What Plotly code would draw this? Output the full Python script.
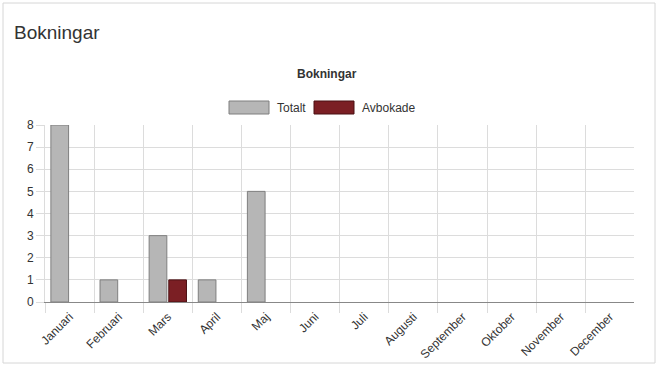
import plotly.graph_objects as go

months = ["Januari", "Februari", "Mars", "April", "Maj", "Juni", "Juli",
          "Augusti", "September", "Oktober", "November", "December"]
totalt = [8, 1, 3, 1, 5, 0, 0, 0, 0, 0, 0, 0]
avbokade = [0, 0, 1, 0, 0, 0, 0, 0, 0, 0, 0, 0]
series_names = ["Totalt", "Avbokade"]
fill_colors = ["#b6b6b6", "#7b1f24"]
line_colors = ["#7f7f7f", "#4a1013"]
y_ticks = [0, 1, 2, 3, 4, 5, 6, 7, 8]

W, H = 659, 368
L, R, T, B = 45, 25, 125, 66
pw, ph = W - L - R, H - T - B

def px(x):
    return (x - L) / pw

def py(y):
    return 1 - (y - T) / ph

FONT = "Liberation Sans, Arial, Helvetica, sans-serif"

fig = go.Figure()
for name, vals, fc, lc in zip(series_names, [totalt, avbokade], fill_colors, line_colors):
    fig.add_trace(go.Bar(x=months, y=vals, name=name,
                         marker=dict(color=fc, line=dict(color=lc, width=[1 if v else 0 for v in vals])),
                         showlegend=False))

shapes = []
annotations = []
# card border
shapes.append(dict(type="rect", xref="paper", yref="paper", x0=px(3), x1=px(655), y0=py(363), y1=py(3),
                   line=dict(color="#d6d6d6", width=1), fillcolor="rgba(0,0,0,0)", layer="below"))
annotations.append(dict(text="Bokningar", xref="paper", yref="paper", x=px(12), y=py(33), xanchor="left",
                        yanchor="middle", showarrow=False, font=dict(family=FONT, size=19, color="#333")))
annotations.append(dict(text="<b>Bokningar</b>", xref="paper", yref="paper", x=px(327), y=py(74), xanchor="center",
                        yanchor="middle", showarrow=False, font=dict(family=FONT, size=12, color="#333")))
# legend
legend_x = [229, 314]
for i, name in enumerate(series_names):
    x0 = legend_x[i]
    shapes.append(dict(type="rect", xref="paper", yref="paper", x0=px(x0), x1=px(x0 + 40), y0=py(114), y1=py(101),
                       line=dict(color=line_colors[i], width=1), fillcolor=fill_colors[i]))
    annotations.append(dict(text=name, xref="paper", yref="paper", x=px(x0 + 46), y=py(107.5), xanchor="left",
                            yanchor="middle", showarrow=False, font=dict(family=FONT, size=12, color="#333")))

fig.update_layout(
    width=W, height=H,
    margin=dict(l=L, r=R, t=T, b=B),
    paper_bgcolor="white", plot_bgcolor="white",
    barmode="group", bargap=0.2, bargroupgap=0.1,
    font=dict(family=FONT, size=12, color="#444"),
    shapes=shapes, annotations=annotations,
    xaxis=dict(type="category", tickson="boundaries", showgrid=True, gridcolor="#dcdcdc", gridwidth=1,
               tickangle=-45, ticks="outside", ticklen=10, tickcolor="#dcdcdc", ticklabelstandoff=2,
               showline=True, linecolor="#888", linewidth=1, range=[-0.5, 11.49], automargin=False,
               tickfont=dict(family=FONT, size=12, color="#333")),
    yaxis=dict(range=[0, 8], tickvals=y_ticks, showgrid=True, gridcolor="#dcdcdc", gridwidth=1,
               ticks="outside", ticklen=8, tickcolor="#dcdcdc", showline=True, linecolor="#dcdcdc",
               zeroline=False, automargin=False, tickfont=dict(family=FONT, size=12, color="#333")),
)

fig.write_html("out.html", config={"displayModeBar": False},
               post_script="document.body.style.margin='0';document.body.style.overflow='hidden';")
